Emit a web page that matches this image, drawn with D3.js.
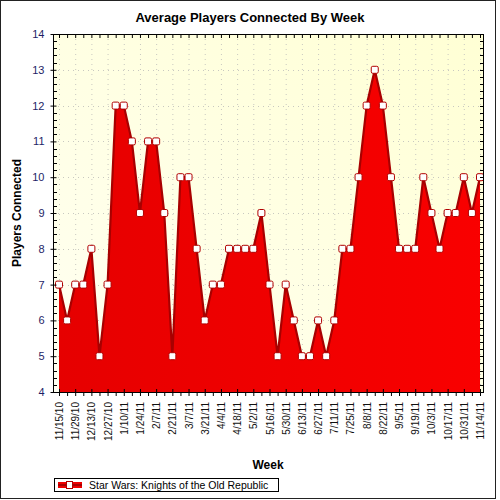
<!DOCTYPE html>
<html lang="en">
<head>
    <meta charset="UTF-8">
    <title>Average Players Connected By Week</title>
    <script src="https://cdnjs.cloudflare.com/ajax/libs/d3/7.8.5/d3.min.js"></script>
    <style>
        body { margin: 0; background: white; }
        text { font-family: "Liberation Sans", Arial, sans-serif; }
    </style>
</head>
<body>
    <div id="chart"></div>

    <script>
        // Data
        const weeks = [
            "11/15/10", "11/22/10", "11/29/10", "12/6/10", "12/13/10", "12/20/10", "12/27/10",
            "1/3/11", "1/10/11", "1/17/11", "1/24/11", "1/31/11", "2/7/11", "2/14/11",
            "2/21/11", "2/28/11", "3/7/11", "3/14/11", "3/21/11", "3/28/11", "4/4/11",
            "4/11/11", "4/18/11", "4/25/11", "5/2/11", "5/9/11", "5/16/11", "5/23/11",
            "5/30/11", "6/6/11", "6/13/11", "6/20/11", "6/27/11", "7/4/11", "7/11/11",
            "7/18/11", "7/25/11", "8/1/11", "8/8/11", "8/15/11", "8/22/11", "8/29/11",
            "9/5/11", "9/12/11", "9/19/11", "9/26/11", "10/3/11", "10/10/11", "10/17/11",
            "10/24/11", "10/31/11", "11/7/11", "11/14/11"
        ];
        const players = [
            7, 6, 7, 7, 8, 5, 7, 12, 12, 11, 9, 11, 11, 9,
            5, 10, 10, 8, 6, 7, 7, 8, 8, 8, 8, 9, 7, 5,
            7, 6, 5, 5, 6, 5, 6, 8, 8, 10, 12, 13, 12, 10,
            8, 8, 8, 10, 9, 8, 9, 9, 10, 9, 10
        ];
        const tickWeeks = weeks.filter((d, i) => i % 2 === 0);
        const yTicks = [4, 5, 6, 7, 8, 9, 10, 11, 12, 13, 14];
        const seriesName = "Star Wars: Knights of the Old Republic";

        const width = 500, height = 500;
        const plot = { left: 53, right: 484, top: 34, bottom: 392 };

        const svg = d3.select("#chart")
            .append("svg")
            .attr("width", width)
            .attr("height", height);

        // Outer frame
        svg.append("rect")
            .attr("x", 0.5).attr("y", 0.5)
            .attr("width", 495).attr("height", 498)
            .attr("fill", "white")
            .attr("stroke", "#222");

        const defs = svg.append("defs");
        const bg = defs.append("linearGradient")
            .attr("id", "bg").attr("x1", 0).attr("y1", 1).attr("x2", 1).attr("y2", 0);
        bg.append("stop").attr("offset", 0).attr("stop-color", "#fffff2");
        bg.append("stop").attr("offset", 1).attr("stop-color", "#ffffd4");

        const fillGrad = defs.append("linearGradient")
            .attr("id", "fillGrad").attr("x1", 0).attr("y1", 0).attr("x2", 1).attr("y2", 0);
        fillGrad.append("stop").attr("offset", 0).attr("stop-color", "#e60000");
        fillGrad.append("stop").attr("offset", 1).attr("stop-color", "#f90000");

        // Scales
        const x = d3.scalePoint()
            .domain(weeks)
            .range([59, 480]);

        const y = d3.scaleLinear()
            .domain([4, 14])
            .range([plot.bottom, plot.top]);

        // Plot background
        svg.append("rect")
            .attr("x", plot.left).attr("y", plot.top)
            .attr("width", plot.right - plot.left)
            .attr("height", plot.bottom - plot.top)
            .attr("fill", "url(#bg)");

        // Grid
        const grid = svg.append("g")
            .attr("stroke", "#c8c8c0")
            .attr("stroke-dasharray", "1,4");
        grid.selectAll("line.v")
            .data(tickWeeks)
            .enter().append("line")
            .attr("x1", d => x(d) + 0.5).attr("x2", d => x(d) + 0.5)
            .attr("y1", plot.top).attr("y2", plot.bottom);
        grid.selectAll("line.h")
            .data(yTicks.slice(1, -1))
            .enter().append("line")
            .attr("x1", plot.left).attr("x2", plot.right)
            .attr("y1", d => Math.round(y(d)) + 0.5).attr("y2", d => Math.round(y(d)) + 0.5);

        // Area and line
        const area = d3.area()
            .x(d => x(d.week))
            .y0(plot.bottom)
            .y1(d => y(d.value));
        const line = d3.line()
            .x(d => x(d.week))
            .y(d => y(d.value));

        const points = weeks.map((w, i) => ({ week: w, value: players[i] }));

        svg.append("path")
            .datum(points)
            .attr("d", area)
            .attr("fill", "url(#fillGrad)");

        svg.append("path")
            .datum(points)
            .attr("d", line)
            .attr("fill", "none")
            .attr("stroke", "#a80000")
            .attr("stroke-width", 2.2)
            .attr("stroke-linejoin", "round");

        svg.selectAll("rect.marker")
            .data(points)
            .enter().append("rect")
            .attr("class", "marker")
            .attr("x", d => x(d.week) - 3.5)
            .attr("y", d => y(d.value) - 3.5)
            .attr("width", 7).attr("height", 7)
            .attr("rx", 1.5)
            .attr("fill", "white")
            .attr("stroke", "#b00000")
            .attr("stroke-width", 1);

        // Plot frame
        svg.append("rect")
            .attr("x", plot.left + 0.5).attr("y", plot.top + 0.5)
            .attr("width", plot.right - plot.left - 1)
            .attr("height", plot.bottom - plot.top)
            .attr("fill", "none")
            .attr("stroke", "#000");

        // Left axis
        const yAxis = d3.axisLeft(y)
            .tickValues(yTicks)
            .tickSize(3)
            .tickPadding(6);
        const yA = svg.append("g")
            .attr("transform", `translate(${plot.left + 0.5},0)`)
            .call(yAxis);
        yA.select(".domain").remove();
        yA.selectAll(".tick line").attr("x2", -3).attr("x1", 3);
        yA.selectAll(".tick text")
            .style("font-size", "11px")
            .attr("fill", "#1e1e66");

        const minorY = d3.range(4, 14.01, 0.2).filter(v => Math.abs(v - Math.round(v)) > 0.01);
        svg.append("g").selectAll("line")
            .data(minorY)
            .enter().append("line")
            .attr("x1", plot.left).attr("x2", plot.left + 4)
            .attr("y1", d => Math.round(y(d)) + 0.5).attr("y2", d => Math.round(y(d)) + 0.5)
            .attr("stroke", "#000");

        // Right ticks
        svg.append("g").selectAll("line")
            .data(d3.range(4, 14.01, 0.2))
            .enter().append("line")
            .attr("x1", plot.right - 4).attr("x2", plot.right)
            .attr("y1", d => Math.round(y(d)) + 0.5).attr("y2", d => Math.round(y(d)) + 0.5)
            .attr("stroke", "#000");

        // Top ticks
        svg.append("g").selectAll("line")
            .data(weeks)
            .enter().append("line")
            .attr("x1", d => x(d) + 0.5).attr("x2", d => x(d) + 0.5)
            .attr("y1", plot.top).attr("y2", plot.top + 4)
            .attr("stroke", "#000");

        // Bottom axis
        svg.append("g").selectAll("line")
            .data(weeks)
            .enter().append("line")
            .attr("x1", d => x(d) + 0.5).attr("x2", d => x(d) + 0.5)
            .attr("y1", (d, i) => i % 2 === 0 ? plot.bottom - 3 : plot.bottom)
            .attr("y2", plot.bottom + 4)
            .attr("stroke", "#000");

        svg.append("g").selectAll("text")
            .data(tickWeeks)
            .enter().append("text")
            .attr("transform", d => `translate(${x(d) + 4},402) rotate(-90)`)
            .attr("text-anchor", "end")
            .style("font-size", "10px")
            .attr("fill", "#111")
            .text(d => d);

        // Titles
        svg.append("text")
            .attr("x", 250).attr("y", 22)
            .attr("text-anchor", "middle")
            .style("font-size", "13px")
            .style("font-weight", "bold")
            .text("Average Players Connected By Week");

        svg.append("text")
            .attr("transform", `translate(21,${(plot.top + plot.bottom) / 2}) rotate(-90)`)
            .attr("text-anchor", "middle")
            .style("font-size", "12px")
            .style("font-weight", "bold")
            .text("Players Connected");

        svg.append("text")
            .attr("x", 268).attr("y", 469)
            .attr("text-anchor", "middle")
            .style("font-size", "12px")
            .style("font-weight", "bold")
            .text("Week");

        // Legend
        const legend = svg.append("g").attr("transform", "translate(54,478)");
        legend.append("rect")
            .attr("x", 0.5).attr("y", 0.5)
            .attr("width", 224).attr("height", 13)
            .attr("fill", "white")
            .attr("stroke", "#000");
        legend.append("rect")
            .attr("x", 4).attr("y", 4)
            .attr("width", 24).attr("height", 6)
            .attr("fill", "#ee0000");
        legend.append("line")
            .attr("x1", 4).attr("x2", 28)
            .attr("y1", 7).attr("y2", 7)
            .attr("stroke", "#a80000")
            .attr("stroke-width", 2);
        legend.append("rect")
            .attr("x", 12.5).attr("y", 3.5)
            .attr("width", 6).attr("height", 7)
            .attr("fill", "white")
            .attr("stroke", "#b00000");
        legend.append("text")
            .attr("x", 35).attr("y", 11)
            .style("font-size", "10.5px")
            .text(seriesName);
    </script>
</body>
</html>
